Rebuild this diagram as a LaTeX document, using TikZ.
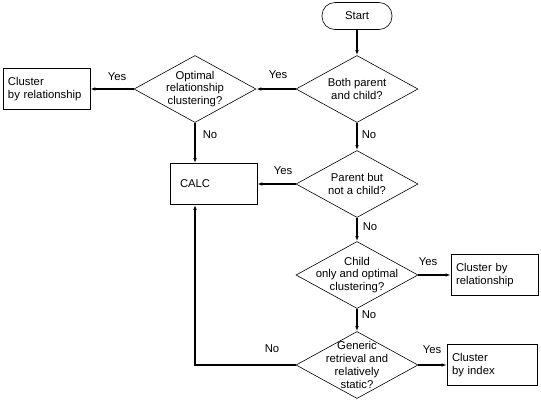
\documentclass[tikz,border=0pt]{standalone}
\usepackage{fontspec}
\setmainfont{Liberation Sans}
\usetikzlibrary{shapes.geometric, arrows.meta}

\begin{document}
\begin{tikzpicture}[
        x=1pt, y=-1pt,
        every node/.style={font=\fontsize{11.3}{12.8}\selectfont},
        decision/.style={diamond, draw, line width=0.6pt, aspect=1.8,
        minimum width=122pt, minimum height=67pt, inner xsep=-15pt,
        inner ysep=-10pt, align=center},
        process/.style={rectangle, draw, line width=0.6pt, align=left,
        minimum height=41pt, inner xsep=5pt},
        terminator/.style={rectangle, rounded corners=13pt, draw,
        line width=0.6pt, minimum width=70pt, minimum height=27pt},
        flow/.style={-{Latex[length=5pt,width=3.5pt]}, line width=1.1pt},
      ]

      \useasboundingbox (0,0) rectangle (541,400);

      % shapes
      \node[terminator] (start) at (357,16) {Start};
      \node[decision] (both) at (357,89) {Both parent\\and child?};
      \node[decision] (optimal) at (195,89) {Optimal\\relationship\\clustering?};
      \node[process, text width=77pt] (clrel) at (46.5,89) {Cluster\\by relationship};
      \node[process, text width=67pt, inner xsep=10pt] (calc) at (213.5,184) {CALC};
      \node[decision] (parent) at (357,184) {Parent but\\not a child?};
      \node[decision] (child) at (357,275) {Child\\only and optimal\\clustering?};
      \node[process, text width=77pt] (clrelb) at (494.5,275) {Cluster by\\relationship};
      \node[decision] (generic) at (357,365) {Generic\\retrieval and\\relatively\\static?};
      \node[process, text width=80pt] (clidx) at (492,365) {Cluster\\by index};

      % connectors
      \draw[flow] (start) -- (both);
      \draw[flow] (both) -- (optimal);
      \draw[flow] (optimal) -- (clrel);
      \draw[flow] (optimal.south) -- (optimal.south |- calc.north);
      \draw[flow] (both) -- (parent);
      \draw[flow] (parent) -- (calc);
      \draw[flow] (parent) -- (child);
      \draw[flow] (child) -- (clrelb);
      \draw[flow] (child) -- (generic);
      \draw[flow] (generic) -- (clidx);
      \draw[flow] (generic.west) -| (optimal.south |- calc.south);

      % labels
      \node (yesboth) at (278,75) {Yes};
      \node (yesopt) at (117,77) {Yes};
      \node (noopt) at (210,135) {No};
      \node (noboth) at (369,135) {No};
      \node (yesparent) at (283,171) {Yes};
      \node (noparent) at (370,227) {No};
      \node (yeschild) at (428,262) {Yes};
      \node (nochild) at (369,315) {No};
      \node (yesgen) at (432,350) {Yes};
      \node (nogen) at (272,349) {No};

    \end{tikzpicture}
\end{document}
